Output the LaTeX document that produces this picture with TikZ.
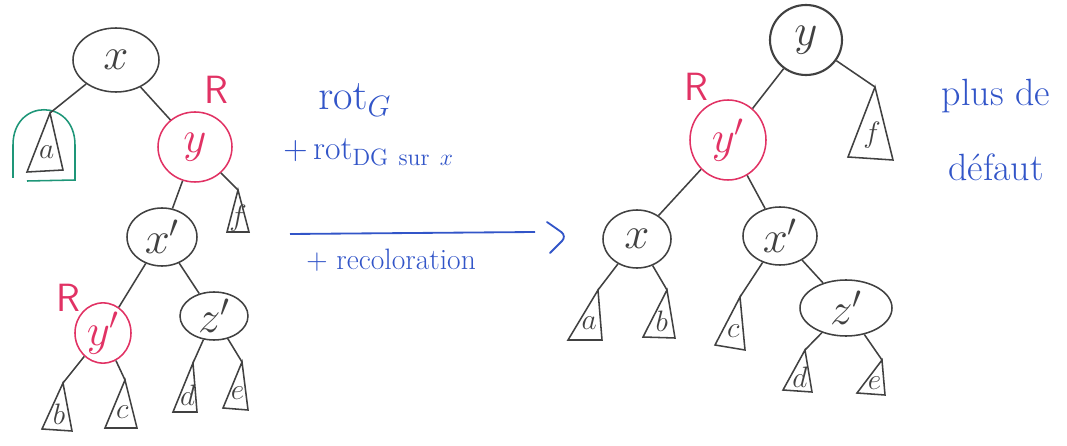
\RequirePackage{fix-cm}
\documentclass[tikz,border=0pt]{standalone}
\usepackage{tikz}
\usetikzlibrary{shapes.geometric, calc}
\usepackage{xcolor}
\definecolor{inkblue}{RGB}{50,85,200}
\definecolor{inkred}{RGB}{225,50,100}
\definecolor{inkgreen}{RGB}{30,150,120}
\definecolor{pencil}{RGB}{65,65,65}
\usepackage{amsmath}

% subtree: name, apex, base left, base right, label
\newcommand{\subtree}[5]{%
  \coordinate (#1) at #2;
  \coordinate (#1l) at #3;
  \coordinate (#1r) at #4;
  \draw[edge] (#1) -- (#1l) -- (#1r) -- cycle;
  \node[leaf] (#1t) at (barycentric cs:#1=1,#1l=1,#1r=1) {$#5$};
}

\begin{document}
\begin{tikzpicture}[
  x=0.025cm, y=-0.025cm,
  edge/.style={draw=pencil, line width=1.1pt},
  knot/.style={ellipse, draw=pencil, line width=1.1pt, inner sep=0pt, text=pencil, font=\fontsize{32}{36}\selectfont},
  redknot/.style={draw=inkred, text=inkred},
  sz/.style 2 args={minimum width=#1*0.025cm, minimum height=#2*0.025cm},
  leaf/.style={inner sep=0pt, text=pencil, font=\fontsize{21}{24}\selectfont},
  rtag/.style={inner sep=0pt, text=inkred, font=\sffamily\fontsize{28}{30}\selectfont},
  note/.style={inner sep=0pt, text=inkblue},
  ink/.style={draw=inkblue, line width=1.3pt},
]
  \useasboundingbox (0,0) rectangle (1067,446);

  % Left tree (before)
  \node[knot, sz={86}{64}] (lx) at (116,60) {$x$};
  \node[knot, redknot, sz={74}{70}] (ly) at (195,147) {$y$};
  \node[knot, sz={70}{58}] (lxp) at (162,237) {$x'$};
  \node[knot, redknot, sz={56}{50}] (lyp) at (103,333) {$y'$};
  \node[knot, sz={68}{48}] (lzp) at (214,316) {$z'$};
  \node[rtag] (lyR) at (216,90) {R};
  \node[rtag] (lypR) at (68,298) {R};

  \subtree{la}{(50,113)}{(27,172)}{(63,170)}{a}
  \subtree{lb}{(63,383)}{(42,429)}{(72,431)}{b}
  \subtree{lc}{(125,380)}{(105,428)}{(137,428)}{c}
  \subtree{ld}{(193,363)}{(173,412)}{(197,412)}{d}
  \subtree{le}{(242,362)}{(223,408)}{(248,410)}{e}
  \subtree{lf}{(238,190)}{(227,232)}{(249,232)}{f}
  \draw[draw=inkgreen, line width=1.1pt] (13,178) -- (13,145) .. controls (13,98) and (75,98) .. (75,145) -- (75,180) -- (27,181);

  \draw[edge] (lx) -- (la);
  \draw[edge] (lx) -- (ly);
  \draw[edge] (ly) -- (lxp);
  \draw[edge] (ly) -- (lf);
  \draw[edge] (lxp) -- (lyp);
  \draw[edge] (lxp) -- (lzp);
  \draw[edge] (lyp) -- (lb);
  \draw[edge] (lyp) -- (lc);
  \draw[edge] (lzp) -- (ld);
  \draw[edge] (lzp) -- (le);

  % Middle: rotations
  \node[note, anchor=base west, font=\fontsize{30}{34}\selectfont] (rotg) at (318,110) {$\mathrm{rot}_G$};
  \node[note, anchor=base west, font=\fontsize{24}{28}\selectfont] (rotdg) at (283,160) {$+\,\mathrm{rot}_{\mathrm{DG}\ \mathrm{sur}\ x}$};
  \node[note, anchor=base west, font=\fontsize{21}{24}\selectfont] (recol) at (306,270) {+ recoloration};
  \coordinate (arrL) at (290,234);
  \coordinate (arrR) at (535,232);
  \draw[ink] (arrL) -- (arrR);
  \draw[ink, rounded corners=5pt, line cap=round] ($(arrR)+(12,-10)$) -- ($(arrR)+(32,4)$) -- ($(arrR)+(15,21)$);

  % Right tree (after)
  \node[knot, sz={72}{70}, line width=1.5pt] (ry) at (806,40) {$y$};
  \node[knot, redknot, sz={76}{80}] (ryp) at (728,140) {$y'$};
  \node[knot, sz={68}{58}] (rx) at (637,239) {$x$};
  \node[knot, sz={74}{58}] (rxp) at (780,236) {$x'$};
  \node[knot, sz={92}{56}] (rzp) at (846,308) {$z'$};
  \node[rtag] (rypR) at (696,87) {R};

  \subtree{ra}{(598,290)}{(568,340)}{(602,340)}{a}
  \subtree{rb}{(667,290)}{(643,337)}{(675,338)}{b}
  \subtree{rc}{(740,297)}{(715,345)}{(745,350)}{c}
  \subtree{rd}{(805,350)}{(783,390)}{(812,392)}{d}
  \subtree{re}{(882,360)}{(857,393)}{(885,395)}{e}
  \subtree{rf}{(875,87)}{(848,157)}{(893,160)}{f}

  \draw[edge] (ry) -- (ryp);
  \draw[edge] (ry) -- (rf);
  \draw[edge] (ryp) -- (rx);
  \draw[edge] (ryp) -- (rxp);
  \draw[edge] (rx) -- (ra);
  \draw[edge] (rx) -- (rb);
  \draw[edge] (rxp) -- (rc);
  \draw[edge] (rxp) -- (rzp);
  \draw[edge] (rzp) -- (rd);
  \draw[edge] (rzp) -- (re);

  \node[note, align=center, font=\fontsize{27}{53}\selectfont] (defaut) at (996,130) {plus de\\d\'efaut};
\end{tikzpicture}
\end{document}
